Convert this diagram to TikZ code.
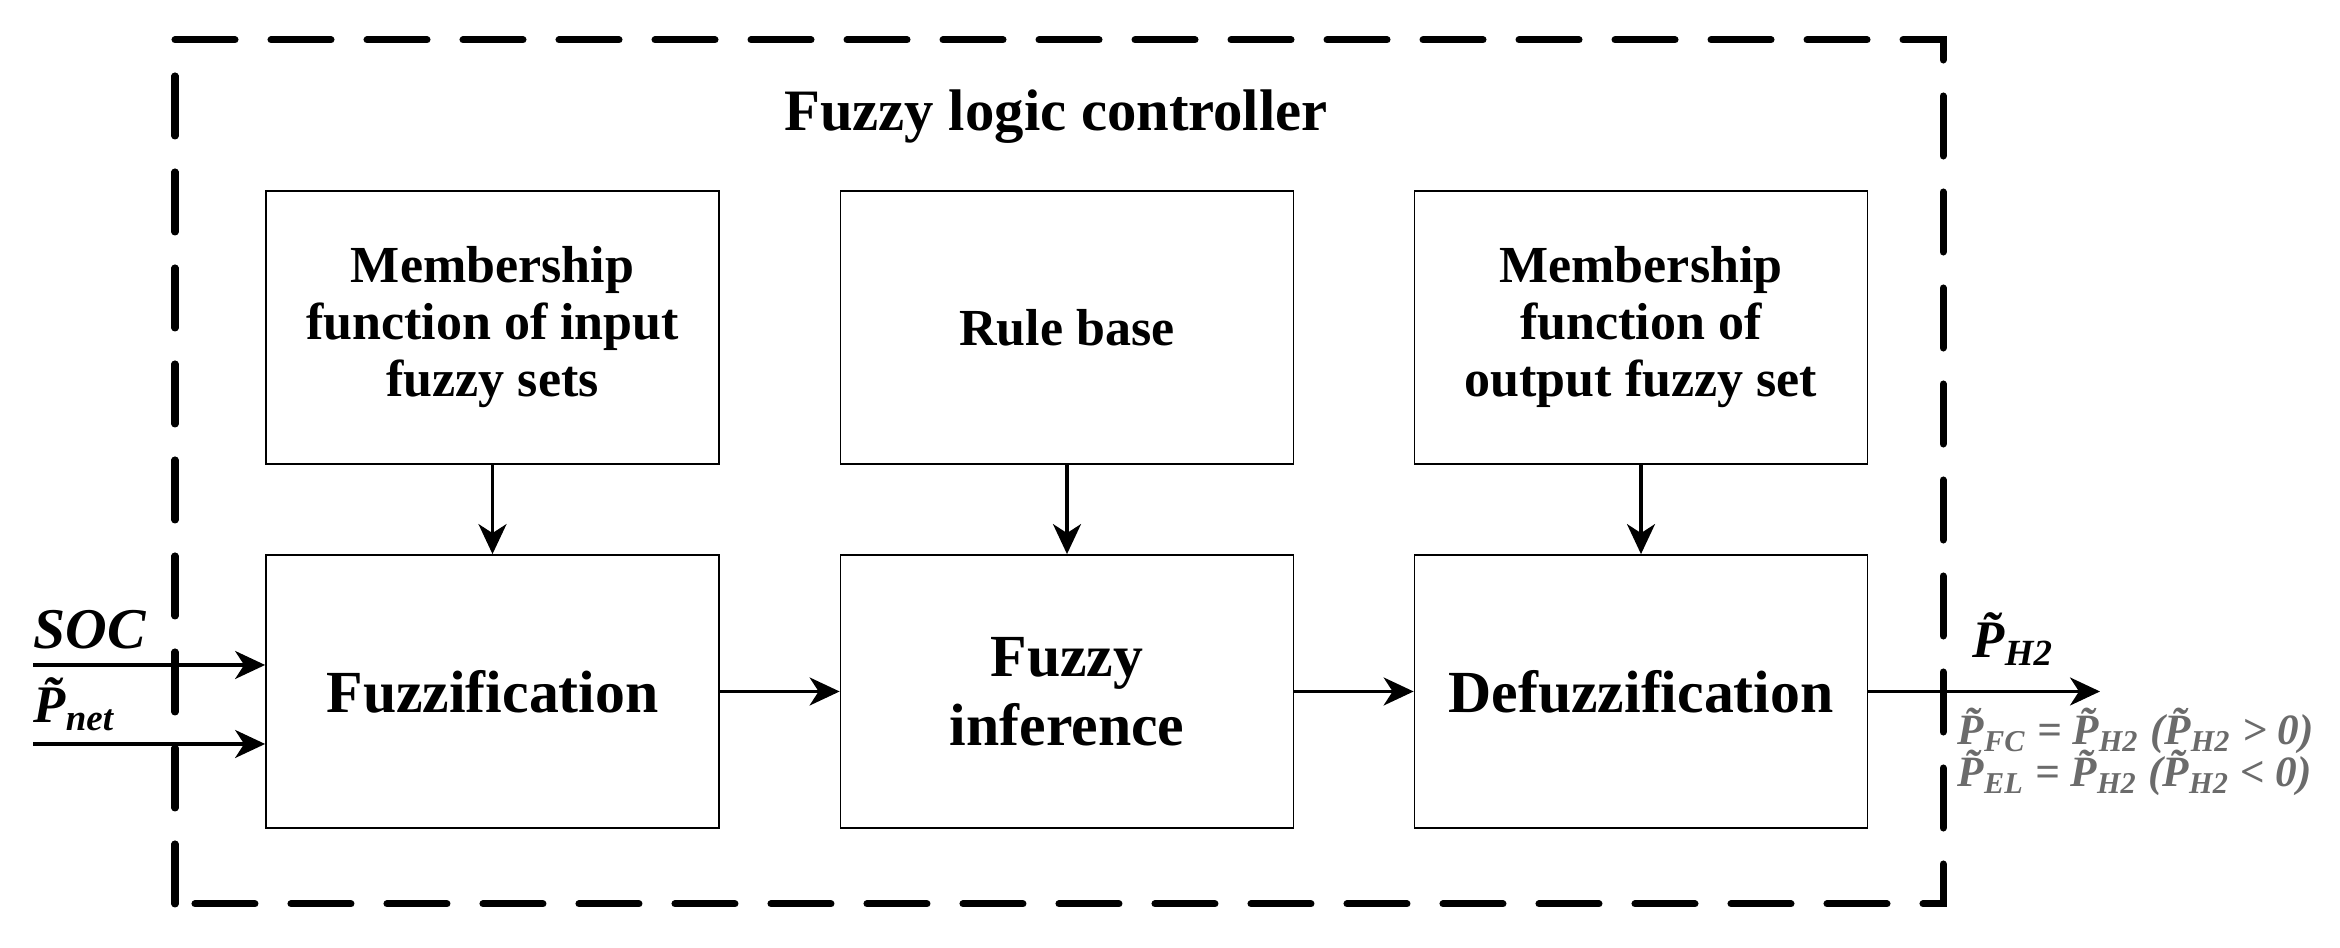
\documentclass[tikz,border=0pt]{standalone}
\usepackage{fontspec}
\setmainfont{Liberation Serif}
\usetikzlibrary{arrows.meta}
\definecolor{notegray}{gray}{0.42}
\newcommand{\tP}{\~{P}}

\begin{document}
\begin{tikzpicture}[>={Stealth[length=3mm,width=2.8mm,inset=0.9mm]}]
\tikzstyle{block}=[shape=rectangle, draw, line width=0.5pt, minimum width=4.53cm, minimum height=2.73cm, align=center, font=\bfseries\fontsize{14.8}{16.2}\selectfont]
\tikzstyle{bigblock}=[block, font=\bfseries\fontsize{17}{19.5}\selectfont]
\tikzstyle{flow}=[->, line width=0.9pt]
\tikzstyle{sig}=[inner sep=0pt, font=\bfseries\itshape\fontsize{16}{18}\selectfont]
\tikzstyle{note}=[inner sep=0pt, anchor=base west, text=notegray, font=\bfseries\itshape\fontsize{12.3}{12}\selectfont]
\useasboundingbox (0,0) rectangle (23.4,9.48);
\draw [line width=2pt, line cap=round, dash pattern=on 0.6cm off 0.36cm] (1.75,0.44) rectangle (19.43,9.08);
\node (title) [anchor=base, font=\bfseries\fontsize{16.7}{18}\selectfont] at (10.56, 8.17) {Fuzzy logic controller};
\node (MI) [block] at (4.925, 6.205) {Membership\\function of input\\fuzzy sets};
\node (RB) [block] at (10.67, 6.205) {Rule base};
\node (MO) [block] at (16.41, 6.205) {Membership\\function of\\output fuzzy set};
\node (FZ) [bigblock] at (4.925, 2.565) {Fuzzification};
\node (FI) [bigblock] at (10.67, 2.565) {Fuzzy\\inference};
\node (DF) [bigblock] at (16.41, 2.565) {Defuzzification};
\coordinate (SOC) at (0.33, 2.83);
\coordinate (PN) at (0.33, 2.04);
\coordinate (OUT) at (21.0, 2.565);
\node (SOCl) [sig, anchor=base west, font=\bfseries\itshape\fontsize{16.4}{18}\selectfont] at (0.33, 2.99) {SOC};
\node (PNl) [sig, anchor=base west, font=\bfseries\itshape\fontsize{15}{18}\selectfont] at (0.33, 2.25) {\tP\textsubscript{net}};
\node (PHl) [sig, anchor=base west, font=\bfseries\itshape\fontsize{15}{18}\selectfont] at (19.72, 2.90) {\tP\textsubscript{H2}};
\node (FCn) [note] at (19.57, 2.03) {\tP\textsubscript{FC} = \tP\textsubscript{H2} (\tP\textsubscript{H2} > 0)};
\node (ELn) [note] at (19.57, 1.61) {\tP\textsubscript{EL} = \tP\textsubscript{H2} (\tP\textsubscript{H2} < 0)};
\draw [flow] (MI) -- (FZ);
\draw [flow] (RB) -- (FI);
\draw [flow] (MO) -- (DF);
\draw [flow] (FZ) -- (FI);
\draw [flow] (FI) -- (DF);
\draw [flow] (SOC) -- (SOC -| FZ.west);
\draw [flow] (PN) -- (PN -| FZ.west);
\draw [flow] (DF) -- (OUT);
\end{tikzpicture}
\end{document}
